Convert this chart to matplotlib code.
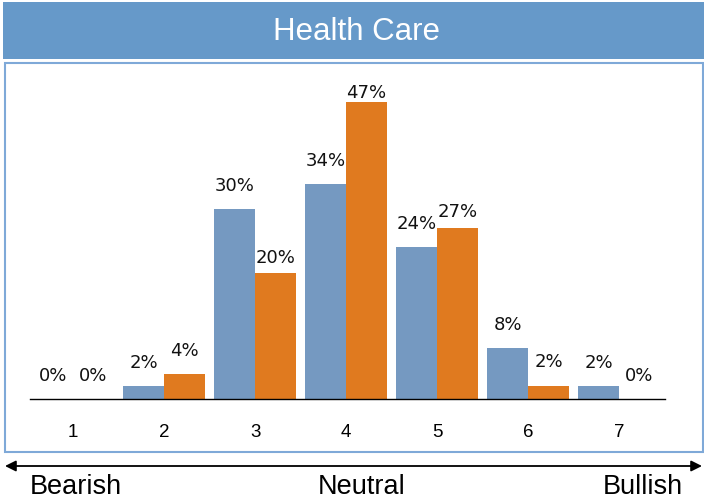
import numpy as np
import matplotlib
matplotlib.use("Agg")
import matplotlib.pyplot as plt
from matplotlib.patches import Rectangle

# survey answers per score, percent
scores = [1, 2, 3, 4, 5, 6, 7]
blue_vals = [0, 2, 30, 34, 24, 8, 2]
orange_vals = [0, 4, 20, 47, 27, 2, 0]

# gap (px) between bar top and its label baseline
blue_gap = [18, 18, 18, 18, 18, 18, 18]
orange_gap = [18, 18, 10, 4, 11, 19, 18]

BLUE = '#7599c1'
ORANGE = '#e07a1f'
BAR_HEAD = '#6699c9'
FRAME = '#7fa9d8'

W, H = 704, 504
fig = plt.figure(figsize=(W / 100, H / 100), dpi=100)
fig.patch.set_facecolor('white')

# header strip and frame around the plot
fig.add_artist(Rectangle((3 / W, (H - 59) / H), (W - 3) / W, 57 / H,
                         transform=fig.transFigure, facecolor=BAR_HEAD,
                         edgecolor='none'))
fig.add_artist(Rectangle((4.5 / W, (H - 452) / H), 698 / W, 389 / H,
                         transform=fig.transFigure, facecolor='none',
                         edgecolor=FRAME, lw=1.5))
fig.text(356 / W, 1 - 32 / H, 'Health Care', color='white',
         fontsize=22.5, family='Liberation Sans', ha='center', va='center')

ymax = 52
px_per = 6.32
ax = fig.add_axes([30 / W, (H - 399) / H, 635 / W, ymax * px_per / H])
x = np.array(scores)
w = 0.45
ax.bar(x - w / 2, blue_vals, w, color=BLUE)
ax.bar(x + w / 2, orange_vals, w, color=ORANGE)

for i in range(len(scores)):
    ax.annotate(f'{blue_vals[i]}%', (x[i] - w / 2, blue_vals[i]),
                xytext=(0, blue_gap[i] * 0.72), textcoords='offset points',
                ha='center', va='baseline', fontsize=13,
                family='DejaVu Sans', color='#111111')
    ax.annotate(f'{orange_vals[i]}%', (x[i] + w / 2, orange_vals[i]),
                xytext=(0, orange_gap[i] * 0.72), textcoords='offset points',
                ha='center', va='baseline', fontsize=13,
                family='DejaVu Sans', color='#111111')

ax.set_xlim(0.527, 7.505)
ax.set_ylim(0, ymax)
ax.set_xticks(x)
ax.set_xticklabels([str(s) for s in scores], family='Liberation Sans',
                   fontsize=13.5)
ax.tick_params(axis='x', length=0, pad=18)
ax.set_yticks([])
for s in ['top', 'left', 'right']:
    ax.spines[s].set_visible(False)
ax.spines['bottom'].set_color('black')
ax.spines['bottom'].set_linewidth(1)
ax.patch.set_alpha(0)

# bearish-to-bullish scale under the frame
ax.annotate('', xy=(702, H - 466), xytext=(5, H - 466),
            xycoords='figure pixels', textcoords='figure pixels',
            arrowprops=dict(arrowstyle='<|-|>', color='black', lw=1.3,
                            mutation_scale=16, shrinkA=0, shrinkB=0))
fig.text(30 / W, 1 - 487 / H, 'Bearish', fontsize=19.5,
         family='Liberation Sans', ha='left', va='center')
fig.text(362 / W, 1 - 487 / H, 'Neutral', fontsize=19.5,
         family='Liberation Sans', ha='center', va='center')
fig.text(683 / W, 1 - 487 / H, 'Bullish', fontsize=19.5,
         family='Liberation Sans', ha='right', va='center')

fig.savefig('out.png', dpi=100)
